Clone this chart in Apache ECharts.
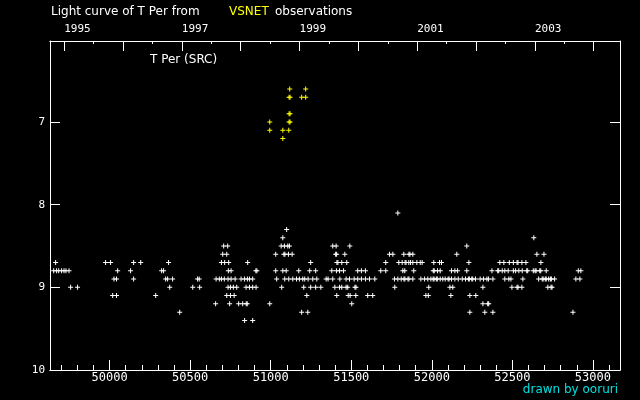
<!DOCTYPE html>
<html>
<head>
<meta charset="utf-8">
<script src="https://cdn.jsdelivr.net/npm/echarts@6/dist/echarts.min.js"></script>
<style>
  html, body { margin: 0; padding: 0; background: #000; }
  #chart { width: 640px; height: 400px; }
</style>
</head>
<body>
<div id="chart"></div>
<script>
// visual estimates (white), one row per magnitude, dates in JD-2400000
const rowMags = [8.1, 8.3, 8.4, 8.5, 8.6, 8.7, 8.8, 8.9, 9.0, 9.1, 9.2, 9.3, 9.4]
const rowDates = [
  [51789],
  [51099],
  [51075, 52633],
  [50708, 50733, 51065, 51085, 51106, 51116, 51385, 51406, 51491, 52217],
  [50702, 50727, 51031, 51082, 51088, 51110, 51133, 51403, 51409, 51460, 51737, 51758, 51826, 51858,
   51864, 51882, 52155, 52652, 52696],
  [49665, 49975, 50006, 50149, 50193, 50366, 50694, 50714, 50739, 50857, 51248, 51411, 51417, 51441,
   51472, 51714, 51795, 51816, 51834, 51840, 51857, 51868, 51882, 51907, 51928, 51940, 52012, 52048,
   52060, 52230, 52422, 52447, 52481, 52506, 52529, 52535, 52559, 52584, 52677],
  [49653, 49671, 49684, 49702, 49717, 49729, 49748, 50050, 50130, 50323, 50335, 50737, 50754, 50908,
   50914, 51031, 51075, 51096, 51174, 51242, 51279, 51379, 51408, 51427, 51452, 51540, 51563, 51588,
   51683, 51714, 51820, 51832, 51888, 52009, 52015, 52035, 52052, 52122, 52143, 52160, 52217, 52373,
   52409, 52415, 52437, 52453, 52474, 52506, 52520, 52540, 52561, 52589, 52595, 52630, 52641, 52647,
   52670, 52676, 52710, 52909, 52925],
  [50027, 50043, 50149, 50348, 50360, 50391, 50546, 50556, 50661, 50681, 50694, 50712, 50735, 50754,
   50779, 50816, 50837, 50855, 50868, 50888, 51037, 51087, 51112, 51137, 51160, 51178, 51199, 51211,
   51232, 51261, 51286, 51344, 51356, 51385, 51429, 51468, 51489, 51518, 51540, 51563, 51588, 51613,
   51646, 51768, 51789, 51810, 51827, 51833, 51852, 51858, 51882, 51932, 51955, 51975, 51994, 52008,
   52014, 52028, 52034, 52052, 52068, 52083, 52101, 52107, 52122, 52143, 52164, 52189, 52209, 52227,
   52233, 52248, 52254, 52271, 52300, 52321, 52342, 52352, 52379, 52453, 52478, 52491, 52565, 52663,
   52685, 52691, 52704, 52710, 52725, 52736, 52742, 52762, 52894, 52919],
  [49758, 49801, 50373, 50516, 50559, 50735, 50750, 50768, 50789, 50847, 50868, 50888, 50909, 51068,
   51205, 51248, 51279, 51311, 51398, 51427, 51441, 51468, 51478, 51523, 51529, 51770, 51981, 52112,
   52130, 52317, 52497, 52529, 52535, 52559, 52720, 52740, 52746],
  [50019, 50043, 50286, 50727, 50750, 50773, 51224, 51410, 51481, 51493, 51528, 51602, 51633, 51963,
   51978, 52118, 52236, 52273],
  [50658, 50745, 50801, 50826, 50848, 50854, 50994, 51503, 52317, 52347, 52353],
  [50435, 51192, 51230, 52236, 52329, 52379, 52876],
  [50838, 50888]
]

// VSNET reports (yellow)
const vsnetDates = [51118, 51217, 51114, 51120, 51192, 51217, 51114, 51120, 50994, 51114, 51120,
                    50994, 51075, 51112, 51075]
const vsnetMags = [6.6, 6.6, 6.7, 6.7, 6.7, 6.7, 6.9, 6.9, 7.0, 7.0, 7.0, 7.1, 7.1, 7.1, 7.2]

// axes
const jdMin = 49630
const jdMax = 53168
const jdLabels = [50000, 50500, 51000, 51500, 52000, 52500, 53000]
const yearTicks = [1995, 1996, 1997, 1998, 1999, 2000, 2001, 2002, 2003, 2004]
const yearLabels = [1995, 1997, 1999, 2001, 2003]
const magTicks = [7, 8, 9, 10]
const magMin = 6.02
const magMax = 10

const toYear = (jd) => 2000 + (jd - 51544) / 365.25

const jdMinor = []
for (let v = 49700; v < jdMax; v += 100) jdMinor.push(v)
const halfYears = yearTicks.map(y => y + 0.5).filter(y => y < toYear(jdMax))

const visualData = []
rowMags.forEach((m, i) => rowDates[i].forEach(d => visualData.push([d, m])))
const vsnetData = vsnetDates.map((d, i) => [d, vsnetMags[i]])

const plus = 'path://M2 0H3V2H5V3H3V5H2V3H0V2H2Z'
const font = "'DejaVu Sans Mono', monospace"
const textFont = "12px 'DejaVu Sans'"

const baseX = (extra) => Object.assign({
  type: 'value',
  min: jdMin,
  max: jdMax,
  position: 'bottom',
  axisLine: { onZero: false, lineStyle: { color: '#fff', width: 1 } },
  splitLine: { show: false },
  axisTick: { show: false },
  axisLabel: { show: false }
}, extra)

const baseYear = (extra) => Object.assign({
  type: 'value',
  min: toYear(jdMin),
  max: toYear(jdMax),
  position: 'top',
  axisLine: { onZero: false, lineStyle: { color: '#fff', width: 1 } },
  splitLine: { show: false },
  axisTick: { show: false },
  axisLabel: { show: false }
}, extra)

const baseY = (extra) => Object.assign({
  type: 'value',
  inverse: true,
  min: magMin,
  max: magMax,
  axisLine: { show: true, onZero: false, lineStyle: { color: '#fff', width: 1 } },
  splitLine: { show: false },
  axisTick: { show: false },
  axisLabel: { show: false }
}, extra)

const label = (text, x, y, fill, align) => ({
  type: 'text', x: x, y: y,
  style: { text: text, fill: fill, font: textFont, align: align || 'left', textAlign: align || 'left',
    verticalAlign: 'middle', textVerticalAlign: 'middle' }
})

const chart = echarts.init(document.getElementById('chart'))
chart.setOption({
  animation: false,
  backgroundColor: '#000',
  grid: { left: 50, right: 20, top: 41, bottom: 30, containLabel: false, outerBoundsMode: 'none' },
  graphic: [
    label('Light curve of T Per from', 51, 12, '#fff'),
    label('VSNET', 229, 12, '#ffff00'),
    label('observations', 275, 12, '#fff'),
    label('T Per (SRC)', 150, 60, '#fff'),
    label('drawn by ooruri', 618, 390, '#00e0e0', 'right')
  ],
  xAxis: [
    baseX({
      axisTick: { show: true, inside: true, length: 10, customValues: jdLabels,
        lineStyle: { color: '#fff' } },
      axisLabel: { show: true, customValues: jdLabels, color: '#fff', margin: 2,
        fontFamily: font, fontSize: 12, formatter: v => String(v) }
    }),
    baseX({
      axisTick: { show: true, inside: true, length: 5, customValues: jdMinor,
        lineStyle: { color: '#fff' } }
    }),
    baseYear({
      axisTick: { show: true, inside: true, length: 10, customValues: yearTicks,
        lineStyle: { color: '#fff' } },
      axisLabel: { show: true, customValues: yearLabels, color: '#fff', margin: 6, align: 'left',
        fontFamily: font, fontSize: 11, formatter: v => String(v) }
    }),
    baseYear({
      axisTick: { show: true, inside: true, length: 3, customValues: halfYears,
        lineStyle: { color: '#fff' } }
    })
  ],
  yAxis: [
    baseY({
      position: 'left',
      axisTick: { show: true, inside: true, length: 10, customValues: magTicks,
        lineStyle: { color: '#fff' } },
      axisLabel: { show: true, customValues: magTicks, color: '#fff', margin: 5,
        fontFamily: font, fontSize: 11, formatter: v => String(v) }
    }),
    baseY({
      position: 'right',
      axisTick: { show: true, inside: true, length: 10, customValues: magTicks.slice(0, 3),
        lineStyle: { color: '#fff' } }
    })
  ],
  series: [
    {
      name: 'visual',
      type: 'scatter',
      xAxisIndex: 0,
      yAxisIndex: 0,
      symbol: plus,
      symbolSize: 5,
      itemStyle: { color: '#fff', opacity: 1 },
      silent: true,
      data: visualData
    },
    {
      name: 'VSNET',
      type: 'scatter',
      xAxisIndex: 0,
      yAxisIndex: 0,
      symbol: plus,
      symbolSize: 5,
      itemStyle: { color: '#ffff00', opacity: 1 },
      silent: true,
      data: vsnetData
    }
  ]
})
</script>
</body>
</html>
